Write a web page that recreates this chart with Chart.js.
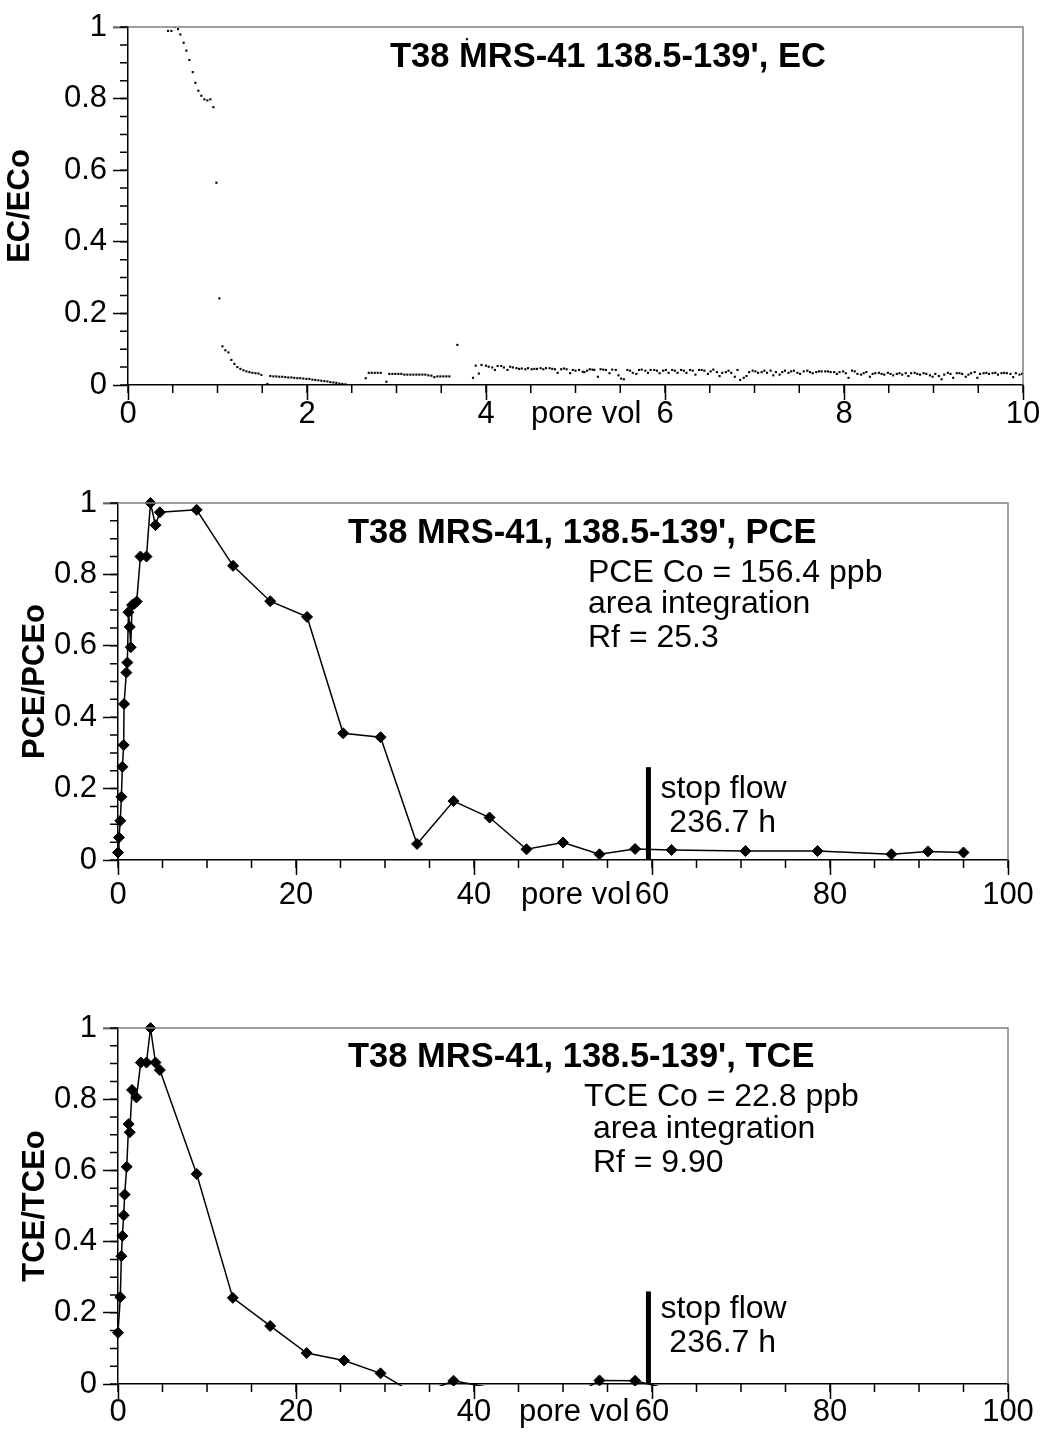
<!DOCTYPE html>
<html>
<head>
<meta charset="utf-8">
<script src="https://cdn.jsdelivr.net/npm/chart.js@4.4.0/dist/chart.umd.min.js"></script>
<style>
    html, body { margin: 0; padding: 0; background: #fff; }
    #page { position: relative; width: 1044px; height: 1435px; background: #fff; overflow: hidden; }
    .box { position: absolute; left: 0; width: 1044px; }
    canvas { display: block; }
</style>
</head>
<body>
<div id="page">
    <div class="box" style="top:0px;height:440px"><canvas id="ec-chart" width="1044" height="440"></canvas></div>
    <div class="box" style="top:470px;height:460px"><canvas id="pce-chart" width="1044" height="460"></canvas></div>
    <div class="box" style="top:990px;height:445px"><canvas id="tce-chart" width="1044" height="445"></canvas></div>
</div>
<script>
// EC breakthrough, logger readings (pore volumes, EC/ECo)
const ecPoreVol = [
    0, 0.447, 0.485, 0.522, 0.559, 0.585, 0.622, 0.652, 0.686, 0.723, 0.753, 0.786, 0.82, 0.853, 0.887, 0.92, 0.954,
    0.988, 1.021, 1.055, 1.088, 1.122, 1.155, 1.189, 1.222, 1.256, 1.29, 1.323, 1.357, 1.39, 1.424, 1.457, 1.49, 1.557,
    1.59, 1.624, 1.657, 1.69, 1.724, 1.758, 1.791, 1.825, 1.858, 1.892, 1.925, 1.959, 1.993, 2.026, 2.06, 2.093,
    2.127, 2.16, 2.194, 2.228, 2.261, 2.295, 2.328, 2.362, 2.395, 2.43,
    2.656, 2.69, 2.723, 2.757, 2.79, 2.824, 2.887, 2.92, 2.954, 2.987, 3.021, 3.054, 3.088, 3.121, 3.155, 3.188,
    3.222, 3.255, 3.289, 3.322, 3.356, 3.39, 3.423, 3.457, 3.49, 3.524, 3.557, 3.59,
    3.68, 3.787, 3.855, 3.885, 3.92, 3.95,
    4.0, 4.03, 4.07, 4.10, 4.13, 4.17, 4.20, 4.24, 4.27, 4.30, 4.34, 4.37, 4.40, 4.44, 4.47, 4.51, 4.54, 4.57,
    4.61, 4.64, 4.67, 4.71, 4.74, 4.77, 4.80, 4.84, 4.87, 4.90, 4.94, 4.97, 5.00, 5.04,
    5.08, 5.10, 5.13, 5.16, 5.19, 5.21, 5.25, 5.28, 5.31, 5.34, 5.38, 5.41, 5.45, 5.48, 5.51, 5.54, 5.58, 5.61,
    5.64, 5.68, 5.71, 5.74, 5.78, 5.81, 5.84, 5.88, 5.91, 5.94, 5.98, 6.01, 6.04, 6.08, 6.11, 6.14, 6.18, 6.21,
    6.24, 6.28, 6.31, 6.34, 6.38, 6.41, 6.44, 6.48, 6.51, 6.54, 6.58, 6.61, 6.64, 6.68, 6.71, 6.74, 6.78, 6.81,
    6.84, 6.88, 6.91, 6.94, 6.98, 7.01, 7.04, 7.08, 7.11, 7.14, 7.18, 7.21, 7.24, 7.28, 7.31, 7.34, 7.38, 7.41,
    7.44, 7.48, 7.51,
    7.55, 7.59, 7.62, 7.65, 7.69, 7.72, 7.75, 7.79, 7.82, 7.85, 7.89, 7.92, 7.95, 7.99, 8.02, 8.05, 8.09, 8.12,
    8.15, 8.19, 8.22, 8.25, 8.29, 8.32, 8.35, 8.39, 8.42, 8.45, 8.49, 8.52, 8.55, 8.59, 8.62, 8.65, 8.69, 8.72,
    8.75, 8.79, 8.82, 8.85, 8.89, 8.92, 8.96, 8.99, 9.02, 9.06, 9.09, 9.12, 9.16, 9.19, 9.22, 9.26, 9.29, 9.32,
    9.36, 9.39, 9.42, 9.46, 9.49, 9.52, 9.56, 9.59, 9.62, 9.66, 9.69, 9.72, 9.76, 9.79, 9.82, 9.86, 9.89, 9.92,
    9.96, 9.99
];
const ecRatio = [
    1.0, 0.989, 0.989, 1.0, 0.994, 0.979, 0.956, 0.934, 0.908, 0.874, 0.844, 0.822, 0.808, 0.798, 0.795, 0.798, 0.776,
    0.565, 0.242, 0.108, 0.097, 0.091, 0.070, 0.059, 0.050, 0.045, 0.041, 0.038, 0.036, 0.034, 0.033, 0.032, 0.028, 0.003,
    0.025, 0.024, 0.024, 0.023, 0.023, 0.022, 0.021, 0.021, 0.020, 0.019, 0.019, 0.018, 0.017, 0.017, 0.015, 0.014,
    0.013, 0.012, 0.011, 0.010, 0.008, 0.007, 0.006, 0.004, 0.003, 0.002,
    0.019, 0.034, 0.034, 0.034, 0.034, 0.034, 0.009, 0.031, 0.031, 0.031, 0.031, 0.031, 0.029, 0.029, 0.029, 0.029,
    0.029, 0.029, 0.029, 0.029, 0.027, 0.026, 0.022, 0.024, 0.024, 0.024, 0.024, 0.024,
    0.112, 0.966, 0.020, 0.054, 0.032, 0.056,
    0.054, 0.051, 0.049, 0.042, 0.053, 0.053, 0.049, 0.042, 0.051, 0.049, 0.047, 0.045, 0.046, 0.044, 0.047, 0.044, 0.045, 0.045,
    0.047, 0.044, 0.047, 0.047, 0.045, 0.044, 0.034, 0.044, 0.046, 0.044, 0.033, 0.042, 0.040, 0.042,
    0.037, 0.036, 0.040, 0.044, 0.043, 0.042, 0.023, 0.044, 0.043, 0.042, 0.033, 0.043, 0.042, 0.027, 0.018, 0.016, 0.042, 0.040,
    0.034, 0.031, 0.042, 0.043, 0.040, 0.034, 0.042, 0.042, 0.040, 0.033, 0.040, 0.042, 0.034, 0.042, 0.040, 0.034, 0.042, 0.040,
    0.034, 0.042, 0.040, 0.029, 0.042, 0.042, 0.040, 0.031, 0.038, 0.043, 0.036, 0.025, 0.034, 0.036, 0.040, 0.034, 0.023, 0.042,
    0.014, 0.020, 0.025, 0.036, 0.040, 0.038, 0.034, 0.036, 0.040, 0.034, 0.040, 0.027, 0.036, 0.029, 0.036, 0.040, 0.034, 0.038,
    0.040, 0.034, 0.031,
    0.038, 0.040, 0.036, 0.033, 0.036, 0.038, 0.038, 0.038, 0.038, 0.036, 0.036, 0.031, 0.036, 0.038, 0.033, 0.020, 0.040, 0.038,
    0.031, 0.029, 0.033, 0.036, 0.023, 0.031, 0.033, 0.034, 0.031, 0.029, 0.034, 0.031, 0.027, 0.031, 0.033, 0.029, 0.033, 0.025,
    0.033, 0.034, 0.031, 0.029, 0.033, 0.031, 0.027, 0.023, 0.031, 0.025, 0.016, 0.029, 0.034, 0.031, 0.020, 0.033, 0.033, 0.031,
    0.023, 0.029, 0.033, 0.036, 0.020, 0.031, 0.033, 0.034, 0.031, 0.033, 0.034, 0.029, 0.033, 0.034, 0.033, 0.031, 0.022, 0.033,
    0.029, 0.031
];

// PCE samples
const pcePoreVol = [0, 0.11, 0.26, 0.38, 0.49, 0.64, 0.68, 0.94, 1.05, 1.17, 1.32, 1.43, 1.58, 1.84, 2.1, 2.52, 3.2, 3.65,
    4.21, 4.7, 8.83, 12.93, 17.1, 21.24, 25.3, 29.5, 33.6, 37.7, 41.75, 45.9, 50.0, 54.1, 58.1, 62.2, 70.5, 78.6,
    86.9, 91.0, 95.0];
const pceRatio = [0.021, 0.063, 0.11, 0.177, 0.261, 0.322, 0.437, 0.525, 0.553, 0.694, 0.653, 0.596, 0.714, 0.718, 0.724,
    0.85, 0.85, 1.0, 0.938, 0.974, 0.981, 0.824, 0.725, 0.681, 0.355, 0.344, 0.045, 0.165, 0.119, 0.030, 0.049, 0.016,
    0.031, 0.028, 0.025, 0.025, 0.016, 0.024, 0.021];

// TCE samples (values below zero fall under the axis)
const tcePoreVol = [0, 0.26, 0.38, 0.49, 0.64, 0.75, 0.98, 1.2, 1.32, 1.58, 2.07, 2.56, 3.2, 3.65, 4.21, 4.7, 8.84,
    12.9, 17.1, 21.2, 25.4, 29.5, 33.6, 37.7, 41.75, 45.9, 50.0, 54.1, 58.1, 62.2, 70.5, 78.6, 86.9, 91.0, 95.0];
const tceRatio = [0.144, 0.244, 0.359, 0.416, 0.474, 0.532, 0.61, 0.73, 0.707, 0.826, 0.805, 0.903, 0.903, 1.0, 0.903,
    0.882, 0.59, 0.242, 0.163, 0.087, 0.066, 0.03, -0.032, 0.009, -0.01, -0.03, -0.05, 0.01, 0.009, -0.016, -0.02,
    -0.02, -0.02, -0.02, -0.02];

const stopFlowX = 59.6;
const stopFlowTop = 0.26;

const FONT = "'Liberation Sans', Arial, sans-serif";
Chart.defaults.font.family = FONT;
Chart.defaults.color = "#000";

function toPoints(xs, ys) {
    return xs.map((x, i) => ({ x: x, y: ys[i] }));
}

// gray frame, minor ticks and the text notes drawn on the plot
const frameAndNotes = {
    id: "frameAndNotes",
    afterDraw(chart, args, opts) {
        const ctx = chart.ctx;
        const a = chart.chartArea;
        const xs = chart.scales.x;
        const ys = chart.scales.y;
        ctx.save();

        ctx.strokeStyle = "#808080";
        ctx.lineWidth = 1.5;
        ctx.beginPath();
        ctx.moveTo(a.left - 15, a.top);
        ctx.lineTo(a.right, a.top);
        ctx.lineTo(a.right, a.bottom);
        ctx.stroke();

        ctx.strokeStyle = "#000";
        ctx.lineWidth = 1.5;
        ctx.beginPath();
        for (let v = xs.min; v <= xs.max + 1e-9; v += opts.xMinor) {
            const px = xs.getPixelForValue(v);
            ctx.moveTo(px, a.bottom);
            ctx.lineTo(px, a.bottom + 8);
        }
        for (let v = ys.min; v <= ys.max + 1e-9; v += opts.yMinor) {
            const py = ys.getPixelForValue(v);
            ctx.moveTo(a.left, py);
            ctx.lineTo(a.left - 8, py);
        }
        ctx.stroke();

        ctx.fillStyle = "#000";
        ctx.textAlign = "left";
        ctx.textBaseline = "alphabetic";
        (opts.notes || []).forEach(n => {
            ctx.font = (n.bold ? "bold " : "") + n.size + "px " + FONT;
            ctx.fillText(n.text, n.x, n.y);
        });

        if (opts.stopNotes) {
            const sx = xs.getPixelForValue(stopFlowX);
            ctx.font = "32px " + FONT;
            opts.stopNotes.forEach(n => ctx.fillText(n.text, sx + 12, n.y));
        }

        ctx.font = "31px " + FONT;
        ctx.textBaseline = "middle";
        ctx.fillText("pore vol", opts.poreVolX, a.bottom + 15 + opts.xPad + 18.6);
        ctx.restore();
    }
};

function axes(opts) {
    return {
        x: {
            type: "linear",
            min: 0,
            max: opts.xMax,
            afterFit: s => { s.height = opts.xHeight; },
            ticks: { stepSize: opts.xStep, font: { size: 31 }, color: "#000", padding: opts.xPad, maxRotation: 0, autoSkip: false },
            grid: { drawOnChartArea: false, tickLength: 15, tickColor: "#000", tickWidth: 1.5 },
            border: { color: "#000", width: 1.5 },
        },
        y: {
            min: 0,
            max: 1,
            afterFit: s => { s.width = opts.yWidth; },
            ticks: {
                stepSize: 0.2,
                font: { size: 31 },
                color: "#000",
                padding: 6,
                callback: v => String(Math.round(v * 10) / 10),
            },
            grid: { drawOnChartArea: false, tickLength: 15, tickColor: "#000", tickWidth: 1.5 },
            border: { color: "#000", width: 1.5 },
            title: { display: true, text: opts.yTitle, font: { size: 31, weight: "bold" }, color: "#000", padding: { top: opts.titlePad, bottom: 0 } },
        },
    };
}

function baseOptions(opts, pluginOpts) {
    pluginOpts.xPad = opts.xPad;
    return {
        responsive: false,
        animation: false,
        events: [],
        layout: { padding: { left: 0, right: opts.padRight, top: opts.padTop, bottom: 0 } },
        scales: axes(opts),
        plugins: {
            legend: { display: false },
            tooltip: { enabled: false },
            frameAndNotes: pluginOpts,
        },
    };
}

new Chart(document.getElementById("ec-chart"), {
    type: "scatter",
    data: {
        datasets: [{
            data: toPoints(ecPoreVol, ecRatio),
            pointStyle: "rect",
            pointRadius: 1.5,
            backgroundColor: "#000",
            borderWidth: 0,
        }],
    },
    options: baseOptions(
        { xMax: 10, xStep: 2, xHeight: 55, yWidth: 128, padRight: 21, padTop: 27, yTitle: "EC/ECo", titlePad: 2, xPad: -4 },
        {
            xMinor: 0.5, yMinor: 0.05, poreVolX: 531,
            notes: [{ text: "T38 MRS-41 138.5-139', EC", x: 390, y: 66.7, size: 34.5, bold: true }],
        }
    ),
    plugins: [frameAndNotes],
});

function stopFlowSet() {
    return {
        data: [{ x: stopFlowX, y: 0 }, { x: stopFlowX, y: stopFlowTop }],
        showLine: true,
        borderColor: "#000",
        borderWidth: 5,
        borderCapStyle: "butt",
        pointRadius: 0,
    };
}

function sampleSet(points) {
    return {
        data: points,
        showLine: true,
        borderColor: "#000",
        borderWidth: 1.5,
        pointStyle: "rectRot",
        pointRadius: c => (c.raw && c.raw.y < 0 ? 0 : 5.5),
        pointBackgroundColor: "#000",
        pointBorderColor: "#000",
        pointBorderWidth: 1,
        clip: { left: 10, top: 10, right: 10, bottom: 2 },
    };
}

new Chart(document.getElementById("pce-chart"), {
    type: "scatter",
    data: { datasets: [stopFlowSet(), sampleSet(toPoints(pcePoreVol, pceRatio))] },
    options: baseOptions(
        { xMax: 100, xStep: 20, xHeight: 70, yWidth: 118, padRight: 36, padTop: 33, yTitle: "PCE/PCEo", titlePad: 17, xPad: 2 },
        {
            xMinor: 5, yMinor: 0.05, poreVolX: 521,
            notes: [
                { text: "T38 MRS-41, 138.5-139', PCE", x: 348, y: 72.7, size: 34.5, bold: true },
                { text: "PCE Co = 156.4 ppb", x: 588, y: 112, size: 32 },
                { text: "area integration", x: 588, y: 143, size: 32 },
                { text: "Rf = 25.3", x: 588, y: 176.7, size: 32 },
            ],
            stopNotes: [{ text: "stop flow", y: 327.7 }, { text: " 236.7 h", y: 361.7 }],
        }
    ),
    plugins: [frameAndNotes],
});

new Chart(document.getElementById("tce-chart"), {
    type: "scatter",
    data: { datasets: [stopFlowSet(), sampleSet(toPoints(tcePoreVol, tceRatio))] },
    options: baseOptions(
        { xMax: 100, xStep: 20, xHeight: 51, yWidth: 118, padRight: 36, padTop: 38, yTitle: "TCE/TCEo", titlePad: 17, xPad: -5 },
        {
            xMinor: 5, yMinor: 0.05, poreVolX: 519,
            notes: [
                { text: "T38 MRS-41, 138.5-139', TCE", x: 348, y: 76.7, size: 34.5, bold: true },
                { text: "TCE Co = 22.8 ppb", x: 584, y: 116, size: 32 },
                { text: " area integration", x: 584, y: 148.3, size: 32 },
                { text: " Rf = 9.90", x: 584, y: 181.7, size: 32 },
            ],
            stopNotes: [{ text: "stop flow", y: 328.3 }, { text: " 236.7 h", y: 361.7 }],
        }
    ),
    plugins: [frameAndNotes],
});
</script>
</body>
</html>
